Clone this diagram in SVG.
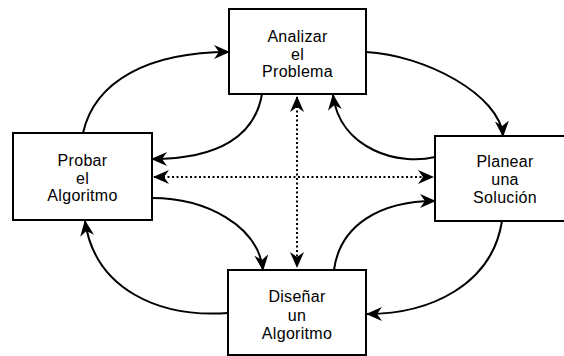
<svg xmlns="http://www.w3.org/2000/svg" width="564" height="356" viewBox="0 0 564 356">
<style>
.box{fill:#fff;stroke:#000;stroke-width:2}
.t{font-family:"Liberation Sans",Arial,sans-serif;font-size:16px;fill:#000;text-anchor:middle;letter-spacing:0.3px}
.c{fill:none;stroke:#000;stroke-width:2;marker-end:url(#ah)}
.d{fill:none;stroke:#000;stroke-width:2;stroke-dasharray:2 2.5;marker-end:url(#ah);marker-start:url(#ahs)}
</style>
<defs>
<marker id="ah" viewBox="0 0 16 14" refX="15" refY="7" markerWidth="16" markerHeight="14" markerUnits="userSpaceOnUse" orient="auto">
<path d="M0,0 L16,7 L0,14 L5,7 Z" fill="#000"/>
</marker>
<marker id="ahs" viewBox="0 0 16 14" refX="15" refY="7" markerWidth="16" markerHeight="14" markerUnits="userSpaceOnUse" orient="auto-start-reverse">
<path d="M0,0 L16,7 L0,14 L5,7 Z" fill="#000"/>
</marker>
</defs>
<rect width="564" height="356" fill="#fff"/>
<g id="connectors">
<path class="c" d="M83,133 C95,80 150,52 229,52"/>
<path class="c" d="M262,94 C255,135 220,159 152,159"/>
<path class="c" d="M366,52 C425,55 500,95 503,136"/>
<path class="c" d="M435,157 C400,166 340,150 333,95"/>
<path class="c" d="M502,221 C492,285 430,314 367,314"/>
<path class="c" d="M334,270 C340,225 380,201 435,201"/>
<path class="c" d="M228,313 C160,318 95,290 85,221"/>
<path class="c" d="M152,198 C205,198 258,225 263,270"/>
<path class="d" d="M154,177 L433,177"/>
<path class="d" d="M297,97 L297,267"/>
</g>
<g id="analizar">
<rect class="box" x="229" y="9" width="137" height="85"/>
<text class="t" x="297.5" y="42">Analizar</text>
<text class="t" x="297.5" y="60">el</text>
<text class="t" x="297.5" y="77">Problema</text>
</g>
<g id="probar">
<rect class="box" x="13" y="133" width="139" height="87"/>
<text class="t" x="82.5" y="166">Probar</text>
<text class="t" x="82.5" y="184">el</text>
<text class="t" x="82.5" y="201">Algoritmo</text>
</g>
<g id="planear">
<rect class="box" x="435" y="136" width="140" height="85"/>
<text class="t" x="505" y="167">Planear</text>
<text class="t" x="505" y="185">una</text>
<text class="t" x="505" y="203">Solución</text>
</g>
<g id="disenar">
<rect class="box" x="228" y="270" width="138" height="85"/>
<text class="t" x="297" y="302">Diseñar</text>
<text class="t" x="297" y="321">un</text>
<text class="t" x="297" y="339">Algoritmo</text>
</g>
</svg>
